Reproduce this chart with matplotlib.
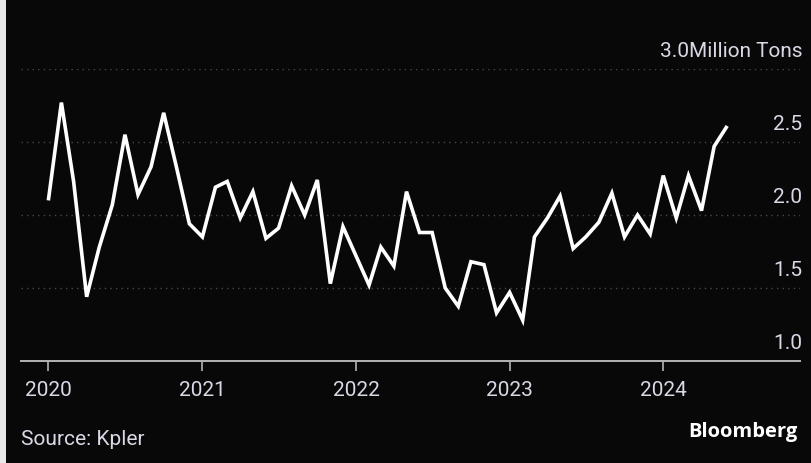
import matplotlib
matplotlib.use("Agg")
import matplotlib.pyplot as plt
from matplotlib.patches import Rectangle
import pandas as pd

# Monthly volumes, Jan 2020 - Jun 2024 (million tons)
months = pd.date_range("2020-01-01", periods=54, freq="MS")
volumes = [
    2.10, 2.77, 2.23, 1.44, 1.78, 2.07, 2.55, 2.14, 2.33, 2.70, 2.32, 1.94,
    1.85, 2.19, 2.23, 1.98, 2.16, 1.84, 1.91, 2.20, 2.00, 2.24, 1.53, 1.92,
    1.72, 1.52, 1.78, 1.65, 2.16, 1.88, 1.88, 1.50, 1.375, 1.68, 1.66, 1.33,
    1.47, 1.28, 1.85, 1.98, 2.13, 1.77, 1.85, 1.95, 2.15, 1.85, 2.00, 1.87,
    2.27, 1.98, 2.27, 2.03, 2.47, 2.61,
]
year_ticks = ["2020", "2021", "2022", "2023", "2024"]
y_levels = [1.0, 1.5, 2.0, 2.5, 3.0]
y_unit = "Million Tons"
source = "Source: Kpler"

FONT = ["Roboto", "DejaVu Sans"]
BG = "#080808"
TXT = "#d9d9e6"
FS = 15

fig = plt.figure(figsize=(8.12, 4.64), dpi=100, facecolor=BG)
W, H = 812, 464
# thin light strip along the left edge
fig.patches.append(Rectangle((0, 0), 6 / W, 1, transform=fig.transFigure,
                             facecolor="#e8e8e8", edgecolor="none"))

ax = fig.add_axes([21 / W, (H - 362) / H, (800 - 21) / W, (362 - 70) / H])
ax.set_facecolor(BG)

ax.plot(months, volumes, color="white", lw=2.6, solid_joinstyle="miter",
        solid_capstyle="butt", zorder=3)

ax.set_ylim(1.0, 3.0)
ax.set_xlim(pd.Timestamp("2019-10-28"), pd.Timestamp("2024-11-21"))

for s in ["top", "right", "left"]:
    ax.spines[s].set_visible(False)
ax.spines["bottom"].set_color("#b4b4b4")
ax.spines["bottom"].set_linewidth(1.4)

ax.set_xticks([pd.Timestamp(f"{y}-01-01") for y in year_ticks])
ax.set_xticklabels(year_ticks)
ax.tick_params(axis="x", length=7, width=1.2, color="#b4b4b4", pad=7,
               labelsize=FS, labelcolor=TXT)
for lbl in ax.get_xticklabels():
    lbl.set_family(FONT)
ax.set_yticks([])

for lv in y_levels[1:]:
    ax.axhline(lv, color="#4a4a3c", lw=1.0, ls=(0, (1, 3)), zorder=1)

yt = ax.get_yaxis_transform()
for lv in y_levels:
    txt = f"{lv:.1f}" + (y_unit if lv == y_levels[-1] else "")
    ax.annotate(txt, xy=(1.003, lv), xycoords=yt, xytext=(0, 6.5),
                textcoords="offset points", ha="right", va="bottom",
                fontsize=FS, color=TXT, family=FONT, annotation_clip=False)

fig.text(21 / W, 1 - 440 / H, source, ha="left", va="center", fontsize=FS,
         color=TXT, family=FONT)
fig.text(798 / W, 1 - 432 / H, "Bloomberg", ha="right", va="center",
         fontsize=14.5, fontweight="bold", color="white", family="Open Sans")

fig.savefig("out.png", dpi=100, facecolor=BG)
